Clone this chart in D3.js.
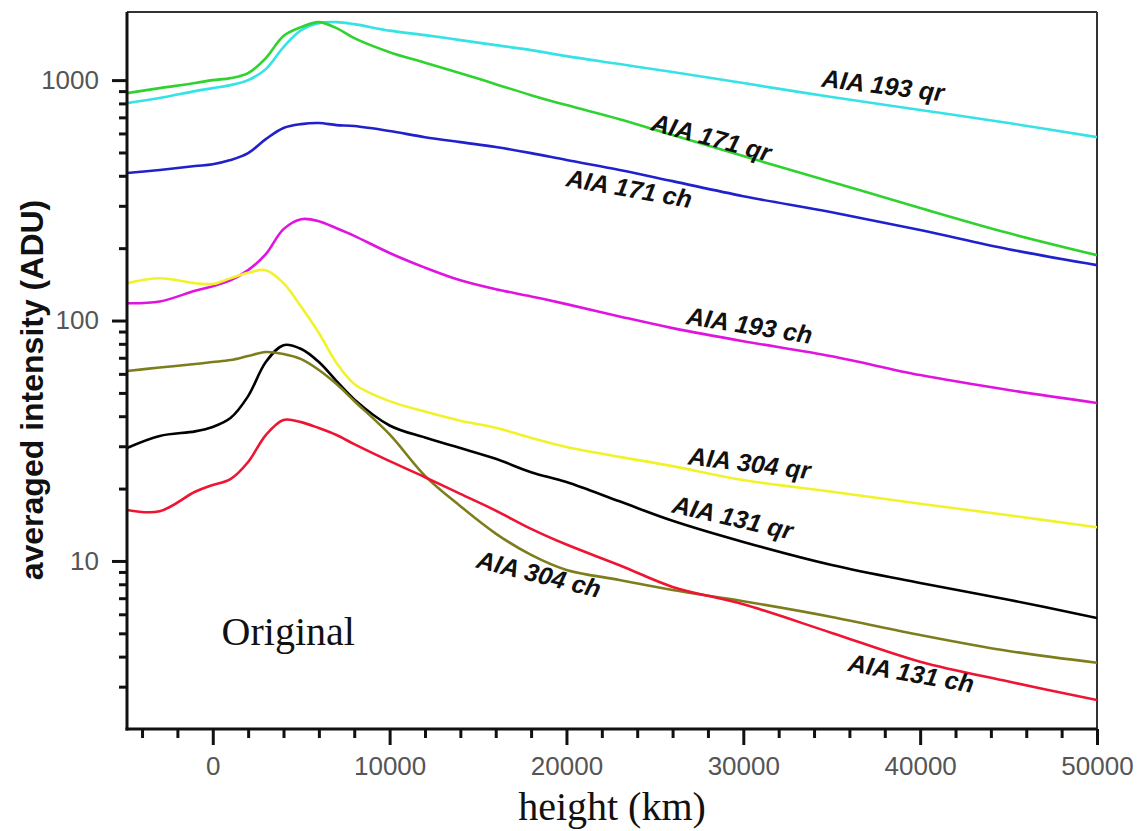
<!DOCTYPE html>
<html>
<head>
<meta charset="utf-8">
<script src="https://cdn.jsdelivr.net/npm/d3@7"></script>
<style>
  html, body { margin: 0; padding: 0; background: #fff; }
  svg { display: block; }
</style>
</head>
<body>
<svg id="chart" width="1139" height="831"></svg>
<script>
// ---------- data ----------
const heights = [-4850, -3000, -1000, 0, 1000, 2000, 3000, 4000, 5000, 6000, 7000, 8000,
  10000, 12000, 14000, 16000, 18000, 20000, 23000, 26000, 30000, 35000, 40000, 45000, 50000];

const aia193qr = [802, 842, 900, 926, 953, 1000, 1111, 1372, 1614, 1726, 1743, 1709,
  1606, 1539, 1467, 1398, 1333, 1258, 1166, 1080, 972, 850, 751, 663, 579];
const aia171qr = [883, 926, 972, 1000, 1019, 1069, 1234, 1525, 1661, 1743, 1645, 1495,
  1307, 1182, 1069, 962, 866, 787, 688, 591, 483, 377, 294, 231, 187];
const aia171ch = [411, 423, 439, 447, 465, 497, 568, 632, 656, 663, 650, 644,
  614, 579, 552, 527, 497, 465, 423, 380, 329, 282, 238, 198, 170];
const aia193ch = [118, 120, 133, 139, 147, 162, 189, 240, 264, 259, 242, 225,
  191, 166, 147, 135, 126, 117, 104, 93, 82, 71, 59.3, 51.4, 45.4];
const aia304qr = [143, 150, 143, 142, 150, 158, 162, 143, 114, 88.7, 66.6, 54.5,
  46.2, 41.8, 38.3, 35.8, 32.5, 29.8, 27.1, 24.8, 21.7, 19.4, 17.3, 15.5, 13.8];
const aia131qr = [29.5, 33.1, 34.6, 36.1, 39.3, 48.5, 67.2, 79, 76.1, 67.2, 56, 47.0,
  36.6, 32.6, 29.5, 26.6, 23.4, 21.3, 17.7, 14.7, 12.0, 9.62, 8.1, 6.9, 5.79];
const aia304ch = [61.7, 63.8, 65.9, 67.2, 68.5, 71.2, 74, 72.6, 69.1, 62.3, 54.4, 46.3,
  33.6, 22.6, 16.9, 13.0, 10.6, 9.18, 8.34, 7.57, 6.8, 5.85, 4.92, 4.22, 3.77];
const aia131ch = [16.3, 16.1, 19.4, 20.7, 21.9, 25.8, 33.4, 38.6, 37.8, 35.7, 33.4, 30.6,
  26.0, 22.3, 19.0, 16.2, 13.6, 11.7, 9.6, 7.8, 6.6, 5.02, 3.81, 3.15, 2.64];

const seriesNames = ["AIA 193 qr", "AIA 171 qr", "AIA 171 ch", "AIA 193 ch",
  "AIA 304 qr", "AIA 131 qr", "AIA 304 ch", "AIA 131 ch"];
const seriesValues = [aia193qr, aia171qr, aia171ch, aia193ch, aia304qr, aia131qr, aia304ch, aia131ch];
const seriesColors = ["#35e2e6", "#2fd22f", "#2020cc", "#e014e0", "#f2f22a", "#000000", "#7d7d1c", "#ee1432"];

// curve labels: anchor (height, intensity) and rotation
const labelH = [37900, 28200, 23550, 30350, 30350, 29400, 18450, 39500];
const labelV = [953, 579, 355, 95.8, 25.6, 15.2, 8.83, 3.42];
const labelAngle = [7, 15, 10, 9, 7, 13, 14, 10];

const xMajorTicks = [0, 10000, 20000, 30000, 40000, 50000];
const xMinorTicks = [-4000, -2000, 2000, 4000, 6000, 8000, 12000, 14000, 16000, 18000,
  22000, 24000, 26000, 28000, 32000, 34000, 36000, 38000, 42000, 44000, 46000, 48000];
const yMajorTicks = [10, 100, 1000];
const yMinorTicks = [3, 4, 5, 6, 7, 8, 9, 20, 30, 40, 50, 60, 70, 80, 90,
  200, 300, 400, 500, 600, 700, 800, 900];

const xDomain = [-4850, 50000];
const yDomain = [2, 1920];

// ---------- layout ----------
const W = 1139, H = 831;
const margin = { left: 127, top: 12, right: 42, bottom: 102 };
const pw = W - margin.left - margin.right;
const ph = H - margin.top - margin.bottom;

const svg = d3.select("#chart");
const g = svg.append("g").attr("transform", `translate(${margin.left},${margin.top})`);

const x = d3.scaleLinear().domain(xDomain).range([0, pw]);
const y = d3.scaleLog().domain(yDomain).range([ph, 0]);

g.append("clipPath").attr("id", "clip")
  .append("rect").attr("x", 0).attr("y", 0).attr("width", pw).attr("height", ph);

// frame (top & right)
g.append("line").attr("x1", 0).attr("x2", pw).attr("y1", 0).attr("y2", 0)
  .attr("stroke", "#333").attr("stroke-width", 2);
g.append("line").attr("x1", pw).attr("x2", pw).attr("y1", 0).attr("y2", ph)
  .attr("stroke", "#333").attr("stroke-width", 2);

// lines
const line = d3.line()
  .x(d => x(d[0]))
  .y(d => y(d[1]))
  .curve(d3.curveCatmullRom.alpha(0.5));

const lines = g.append("g").attr("clip-path", "url(#clip)");
seriesValues.forEach((vals, i) => {
  const pts = heights.map((h, j) => [h, vals[j]]);
  lines.append("path")
    .datum(pts)
    .attr("fill", "none")
    .attr("stroke", seriesColors[i])
    .attr("stroke-width", 2.6)
    .attr("stroke-linejoin", "round")
    .attr("d", line);
});

// axes
const tickFont = "'Liberation Sans', Arial, sans-serif";
function styleAxis(sel) {
  sel.select(".domain").remove();
  sel.selectAll(".tick line").attr("stroke", "#111").attr("stroke-width", 3);
  sel.selectAll(".tick text").attr("fill", "#555").style("font-family", tickFont).style("font-size", "26px");
}

const xMinor = g.append("g").attr("transform", `translate(0,${ph})`)
  .call(d3.axisBottom(x).tickValues(xMinorTicks).tickSize(9).tickFormat(""));
styleAxis(xMinor);
const xMajor = g.append("g").attr("transform", `translate(0,${ph})`)
  .call(d3.axisBottom(x).tickValues(xMajorTicks).tickSize(16).tickPadding(12).tickFormat(d3.format("d")));
styleAxis(xMajor);

const yMinor = g.append("g")
  .call(d3.axisLeft(y).tickValues(yMinorTicks).tickSize(8).tickFormat(""));
styleAxis(yMinor);
const yMajor = g.append("g")
  .call(d3.axisLeft(y).tickValues(yMajorTicks).tickSize(15).tickPadding(13).tickFormat(d3.format("d")));
styleAxis(yMajor);

// axis lines (left & bottom)
g.append("line").attr("x1", 0).attr("x2", 0).attr("y1", 0).attr("y2", ph + 1.5)
  .attr("stroke", "#111").attr("stroke-width", 3);
g.append("line").attr("x1", -1.5).attr("x2", pw).attr("y1", ph).attr("y2", ph)
  .attr("stroke", "#111").attr("stroke-width", 3);

// curve labels
seriesNames.forEach((name, i) => {
  const lx = x(labelH[i]), ly = y(labelV[i]);
  g.append("text")
    .attr("transform", `translate(${lx},${ly}) rotate(${labelAngle[i]})`)
    .attr("text-anchor", "middle")
    .attr("dominant-baseline", "central")
    .style("font-family", tickFont)
    .style("font-weight", "bold")
    .style("font-style", "italic")
    .style("font-size", "25px")
    .attr("fill", "#111")
    .text(name);
});

// "Original" annotation
g.append("text")
  .attr("x", x(500)).attr("y", y(4.47))
  .style("font-family", "'Liberation Serif', 'Times New Roman', serif")
  .style("font-size", "40px")
  .attr("fill", "#111")
  .text("Original");

// axis titles
svg.append("text")
  .attr("x", margin.left + pw / 2).attr("y", 820)
  .attr("text-anchor", "middle")
  .style("font-family", "'Liberation Serif', 'Times New Roman', serif")
  .style("font-size", "40px")
  .attr("fill", "#111")
  .text("height (km)");

svg.append("text")
  .attr("transform", "translate(43,390) rotate(-90)")
  .attr("text-anchor", "middle")
  .style("font-family", tickFont)
  .style("font-weight", "bold")
  .style("font-size", "32px")
  .attr("fill", "#111")
  .text("averaged intensity (ADU)");
</script>
</body>
</html>
